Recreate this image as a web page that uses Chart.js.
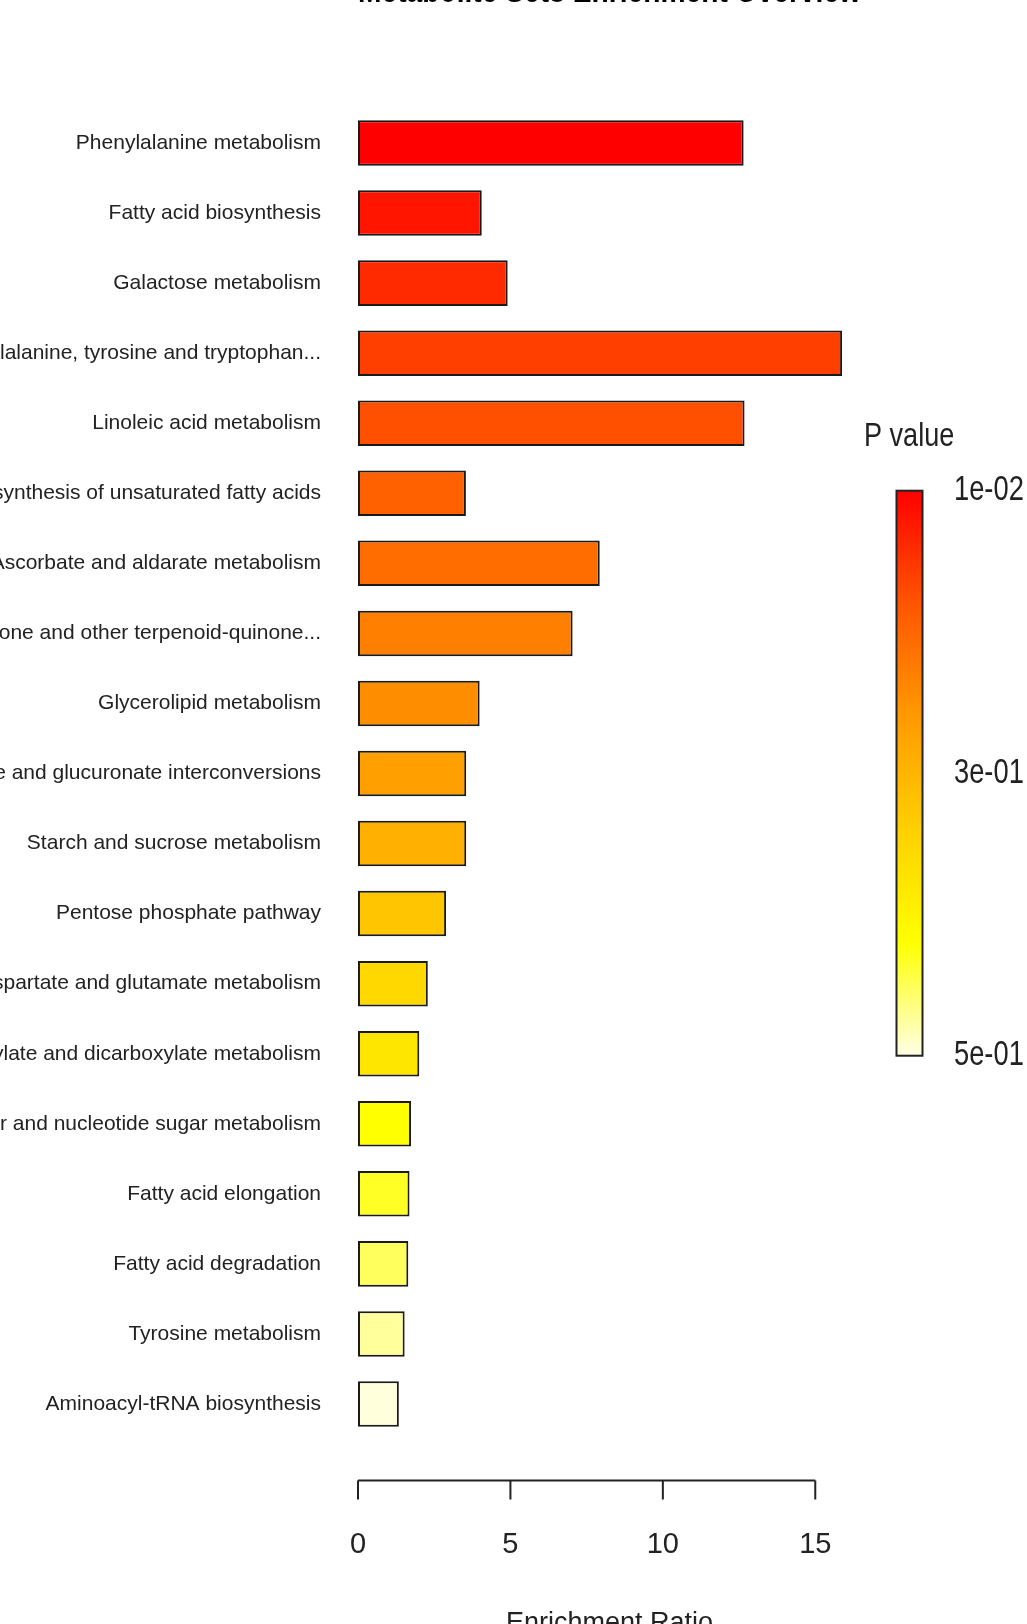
<!DOCTYPE html>
<html>
<head>
<meta charset="utf-8">
<script src="https://cdn.jsdelivr.net/npm/chart.js@4.4.1/dist/chart.umd.min.js"></script>
<style>
  html, body { margin: 0; padding: 0; background: #fff; overflow: hidden; }
  #wrap { position: absolute; left: 0; top: -30px; width: 1027px; height: 1700px; }
</style>
</head>
<body>
<div id="wrap"><canvas id="enrichChart"></canvas></div>
<script>
// pathway names, top to bottom
const pathways = [
    'Phenylalanine metabolism',
    'Fatty acid biosynthesis',
    'Galactose metabolism',
    'Phenylalanine, tyrosine and tryptophan...',
    'Linoleic acid metabolism',
    'Biosynthesis of unsaturated fatty acids',
    'Ascorbate and aldarate metabolism',
    'Ubiquinone and other terpenoid-quinone...',
    'Glycerolipid metabolism',
    'Pentose and glucuronate interconversions',
    'Starch and sucrose metabolism',
    'Pentose phosphate pathway',
    'Alanine, aspartate and glutamate metabolism',
    'Glyoxylate and dicarboxylate metabolism',
    'Amino sugar and nucleotide sugar metabolism',
    'Fatty acid elongation',
    'Fatty acid degradation',
    'Tyrosine metabolism',
    'Aminoacyl-tRNA biosynthesis'
];

// enrichment ratio per pathway
const enrichmentRatio = [12.65, 4.06, 4.91, 15.88, 12.68, 3.54, 7.93, 7.04, 3.99, 3.55, 3.55, 2.89, 2.29, 2.01, 1.74, 1.69, 1.65, 1.53, 1.34];

// fill colour per bar (by p value)
const barColors = [
    '#FF0000', '#FF1500', '#FF2A00', '#FF3F00', '#FF5000', '#FF6000', '#FF6D00',
    '#FF7F00', '#FF8D00', '#FF9F00', '#FFB000', '#FFC600', '#FFD800', '#FFE600',
    '#FFFF00', '#FFFF26', '#FFFF5E', '#FFFF9C', '#FFFFDC'
];

const xTicks = [0, 5, 10, 15];
const pValueLabels = ['1e-02', '3e-01', '5e-01'];
const legendStops = ['#FF0000', '#FF5500', '#FF9A00', '#FFD000', '#FFFF00', '#FFFFE6'];

const font = '"Liberation Sans", Arial, sans-serif';
const PAGE_OFFSET = 30; // canvas sits 30px above the page top

// squeeze text sideways a bit, the original uses a condensed face
function narrowText(ctx, text, x, y, sx) {
    ctx.save();
    ctx.translate(x, y);
    ctx.scale(sx, 1);
    ctx.fillText(text, 0, 0);
    ctx.restore();
}

// axis drawn below the bars like R's barplot
const axisLine = {
    id: 'axisLine',
    afterDraw(chart) {
        const ctx = chart.ctx;
        const x = chart.scales.x;
        const y = 1480.5 + PAGE_OFFSET;
        ctx.save();
        ctx.strokeStyle = '#222';
        ctx.lineWidth = 2;
        ctx.beginPath();
        ctx.moveTo(x.getPixelForValue(xTicks[0]), y);
        ctx.lineTo(x.getPixelForValue(xTicks[xTicks.length - 1]), y);
        xTicks.forEach(v => {
            const px = x.getPixelForValue(v);
            ctx.moveTo(px, y);
            ctx.lineTo(px, y + 19);
        });
        ctx.stroke();
        ctx.restore();
    }
};

// P value colour key on the right
const pLegend = {
    id: 'pLegend',
    afterDraw(chart) {
        const ctx = chart.ctx;
        const left = 896.5, top = 490.7 + PAGE_OFFSET, w = 26, h = 565;
        ctx.save();
        const grad = ctx.createLinearGradient(0, top, 0, top + h);
        legendStops.forEach((c, i) => grad.addColorStop(i / (legendStops.length - 1), c));
        ctx.fillStyle = grad;
        ctx.fillRect(left, top, w, h);
        ctx.strokeStyle = '#222';
        ctx.lineWidth = 2;
        ctx.strokeRect(left, top, w, h);

        ctx.fillStyle = '#222';
        ctx.textBaseline = 'middle';
        ctx.textAlign = 'left';
        ctx.font = '33px ' + font;
        narrowText(ctx, 'P value', 864, 437 + PAGE_OFFSET, 0.82);
        ctx.font = '35px ' + font;
        pValueLabels.forEach((t, i) => {
            narrowText(ctx, t, 954, top + h * i / (pValueLabels.length - 1), 0.78);
        });
        ctx.restore();
    }
};

const ctx = document.getElementById('enrichChart').getContext('2d');
new Chart(ctx, {
    type: 'bar',
    data: {
        labels: pathways,
        datasets: [{
            data: enrichmentRatio,
            backgroundColor: barColors,
            borderColor: '#1a1a1a',
            borderWidth: 2,
            borderSkipped: false,
            barPercentage: 0.65,
            categoryPercentage: 1
        }]
    },
    options: {
        indexAxis: 'y',
        responsive: true,
        maintainAspectRatio: false,
        animation: false,
        layout: { padding: { left: 0, right: 166, top: 0, bottom: 0 } },
        plugins: {
            legend: { display: false },
            tooltip: { enabled: false },
            title: {
                display: true,
                text: 'Metabolite Sets Enrichment Overview',
                fullSize: false,
                color: '#000',
                font: { family: font, size: 33, weight: 'bold', lineHeight: 1 },
                padding: { top: 6, bottom: 99 }
            }
        },
        scales: {
            x: {
                min: 0,
                max: 16.5,
                grid: { display: false, drawTicks: false },
                border: { display: false },
                afterBuildTicks: s => { s.ticks = xTicks.map(v => ({ value: v })); },
                afterFit: s => { s.height = 231; },
                ticks: { font: { family: font, size: 29 }, color: '#222', padding: 89, maxRotation: 0, autoSkip: false },
                title: {
                    display: true,
                    text: 'Enrichment Ratio',
                    color: '#222',
                    font: { family: font, size: 27 },
                    padding: { top: 0, bottom: 30 }
                }
            },
            y: {
                grid: { display: false, drawTicks: false },
                border: { display: false },
                afterFit: s => { s.width = 358; },
                ticks: { font: { family: font, size: 21 }, color: '#222', padding: 37, autoSkip: false }
            }
        }
    },
    plugins: [axisLine, pLegend]
});
</script>
</body>
</html>
